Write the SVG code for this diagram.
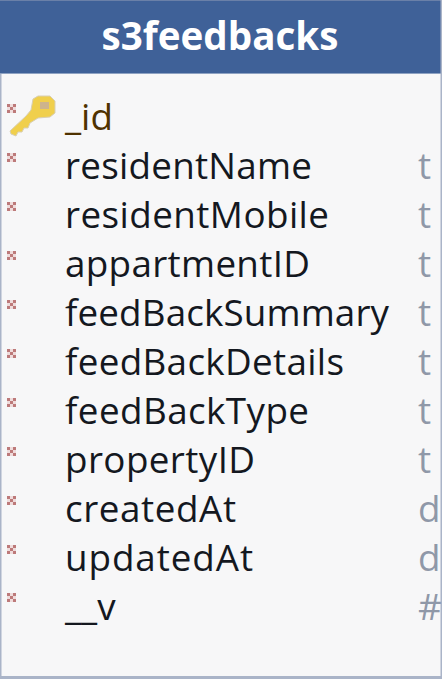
<svg xmlns="http://www.w3.org/2000/svg" width="442" height="679" viewBox="0 0 442 679">
<style>
text{font-family:"Open Sans","Noto Sans","Liberation Sans",sans-serif}
.n{font-size:36.8px;fill:#14181f}
.t{font-size:36.8px;fill:#8f98a8}
.h{font-size:38.600px;font-weight:700;fill:#fff;text-anchor:middle}
</style>
<defs>
<g id="x">
<rect width="9" height="9" fill="#efdcdc"/>
<path d="M0 0h3v3H0zM6 0h3v3H6zM3 3h3v3H3zM0 6h3v3H0zM6 6h3v3H6z" fill="#bd7a7a"/>
</g>
</defs>
<rect width="442" height="679" fill="#f7f7f8"/>
<g id="table-s3feedbacks">
<rect x="0" y="0" width="442" height="73" fill="#3f6198"/>
<rect x="0" y="0" width="442" height="1" fill="#6a80a8"/>
<rect x="0" y="73" width="442" height="1" fill="#8ea2c2"/>
<rect x="0" y="74" width="1.500" height="605" fill="#aab4c8"/>
<rect x="440.500" y="0" width="1.500" height="679" fill="#aab4c8"/>
<rect x="0" y="676" width="442" height="3" fill="#aab4c8"/>
<text class="h" x="220" y="50">s3feedbacks</text>
</g>
<g id="key-icon">
<path d="M11 134L10 131L26 116L31 110L33 99L38 96L50 96L55 101L55 113L50 117L38 118L30 123L28 128L24 128L22 132L18 132L16 136Z" fill="#f0cf4c" stroke="#d8cfb4" stroke-width="1"/>
<rect x="40" y="102" width="9" height="7" fill="#cdb48c"/>
</g>
<g id="rows">
<g id="row-id"><use href="#x" x="7" y="104"/><text class="n" x="65" y="130" style="fill:#4f3200">_id</text></g>
<g id="row-residentName"><use href="#x" x="7" y="153"/><text class="n" x="65" y="179" textLength="247">residentName</text><text class="t" x="418" y="179">t</text></g>
<g id="row-residentMobile"><use href="#x" x="7" y="202"/><text class="n" x="65" y="228" textLength="264">residentMobile</text><text class="t" x="418" y="228">t</text></g>
<g id="row-appartmentID"><use href="#x" x="7" y="251"/><text class="n" x="65" y="277" textLength="245">appartmentID</text><text class="t" x="418" y="277">t</text></g>
<g id="row-feedBackSummary"><use href="#x" x="7" y="300"/><text class="n" x="65" y="326" textLength="324">feedBackSummary</text><text class="t" x="418" y="326">t</text></g>
<g id="row-feedBackDetails"><use href="#x" x="7" y="349"/><text class="n" x="65" y="375" textLength="279">feedBackDetails</text><text class="t" x="418" y="375">t</text></g>
<g id="row-feedBackType"><use href="#x" x="7" y="398"/><text class="n" x="65" y="424" textLength="244">feedBackType</text><text class="t" x="418" y="424">t</text></g>
<g id="row-propertyID"><use href="#x" x="7" y="447"/><text class="n" x="65" y="473" textLength="190">propertyID</text><text class="t" x="418" y="473">t</text></g>
<g id="row-createdAt"><use href="#x" x="7" y="496"/><text class="n" x="65" y="522" textLength="171">createdAt</text><text class="t" x="418" y="522">d</text></g>
<g id="row-updatedAt"><use href="#x" x="7" y="545"/><text class="n" x="65" y="571" textLength="188">updatedAt</text><text class="t" x="418" y="571">d</text></g>
<g id="row-v"><use href="#x" x="7" y="593"/><text class="n" x="65" y="620">__v</text><text class="t" x="418" y="620">#</text></g>
</g>
</svg>
